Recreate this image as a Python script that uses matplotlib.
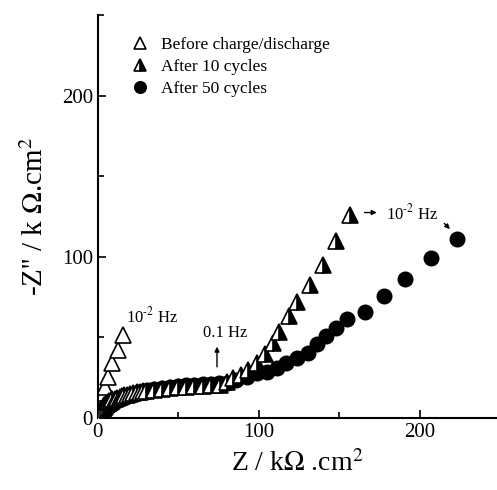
import matplotlib
matplotlib.use("Agg")
import matplotlib.pyplot as plt
from matplotlib.ticker import MultipleLocator

plt.rcParams['font.family'] = ['Liberation Serif', 'DejaVu Serif']
plt.rcParams['mathtext.fontset'] = 'stix'

# Before charge/discharge
before_x = [0.5, 1.0, 1.5, 1.8, 2.2, 2.5, 3.2, 4.0, 4.6, 6.2, 8.7, 12.4, 15.5]
before_y = [1.5, 3.0, 4.5, 6.0, 7.5, 9.0, 12.0, 15.5, 19.0, 25.5, 34.0, 42.0, 51.5]

# After 10 cycles
c10_x = [0.8, 1.5, 2.2, 3, 4, 5, 6, 7, 8, 9, 10.5, 12, 13.5, 15, 16.5, 18, 20, 22, 24, 26, 28,
         30, 35, 40, 45, 50, 55, 60, 65, 70, 76, 80, 84, 89,
         93, 98.6, 103.7, 109, 112.5, 119, 124, 131.7, 140, 148, 156.5]
c10_y = [2.5, 4, 5.5, 7, 8, 9, 9.8, 10.5, 11, 11.5, 12, 12.5, 13, 13.5, 14, 14.5, 15, 15.5,
         16, 16.3, 16.6, 17, 17.5, 18, 18.5, 19, 19.3, 19.6,
         20, 20.3, 20.5, 22.4, 25, 26.7, 30, 34, 40, 46.6, 53.5, 63, 72, 82.6, 95, 110, 126]

# After 50 cycles
c50_x = [0.8, 1.5, 2.2, 3, 4, 5, 6.5, 8, 10, 12, 14.5, 17, 19.5, 22, 25, 28, 31, 35, 40, 45,
         50, 55, 60, 65, 70, 75, 80, 86, 92.5, 98.6,
         105, 111, 117, 123.6, 130.3, 136, 142, 148, 155, 166, 178, 190.7, 207, 223]
c50_y = [0.8, 1.5, 2.2, 3, 4, 5, 6.5, 8, 9.5, 11, 12, 13, 14, 15, 16, 16.5, 17.2, 18, 18.8,
         19.5, 20, 20.3, 20.7, 21, 21.2, 21.5, 21.7,
         23.6, 25.5, 28, 28.6, 31, 34, 37, 40.5, 46, 51, 56, 61.5, 66, 76, 86, 99, 111]

fig = plt.figure(figsize=(4.97, 4.90), dpi=100)
ax = fig.add_axes([0.197, 0.147, 0.803, 0.822])

ax.plot(before_x, before_y, linestyle='none', marker='^', markersize=11,
        markerfacecolor='white', markeredgecolor='black', markeredgewidth=1.2,
        label='Before charge/discharge')
ax.plot(c50_x, c50_y, linestyle='none', marker='o', markersize=10.5,
        color='black', label='After 50 cycles', zorder=2)
ax.plot(c10_x, c10_y, linestyle='none', marker='^', markersize=11,
        fillstyle='right', markerfacecolor='black', markerfacecoloralt='white',
        markeredgecolor='black', markeredgewidth=1.2, label='After 10 cycles', zorder=3)

handles, labels = ax.get_legend_handles_labels()
order = [0, 2, 1]
leg = ax.legend([handles[i] for i in order], [labels[i] for i in order],
                loc='upper left', bbox_to_anchor=(0.04, 0.985), frameon=False,
                fontsize=12.5, handletextpad=0.6, labelspacing=0.35,
                handlelength=1.2, markerscale=0.8)

ax.set_xlim(0, 248)
ax.set_ylim(0, 250)
ax.xaxis.set_major_locator(MultipleLocator(100))
ax.xaxis.set_minor_locator(MultipleLocator(50))
ax.yaxis.set_major_locator(MultipleLocator(100))
ax.yaxis.set_minor_locator(MultipleLocator(50))
ax.tick_params(which='both', direction='in', labelsize=15, width=1.2)
ax.tick_params(which='major', length=6)
ax.tick_params(which='minor', length=4)
ax.spines['top'].set_visible(False)
ax.spines['right'].set_visible(False)
for s in ['left', 'bottom']:
    ax.spines[s].set_linewidth(1.5)

ax.set_xlabel('Z / k$\\Omega$ .cm$^2$', fontsize=20, labelpad=6)
ax.set_ylabel("-Z'' / k $\\Omega$.cm$^2$", fontsize=21, labelpad=9)

ax.text(17.5, 63, '10$^{\\text{-}2}$ Hz', fontsize=12, va='center', ha='left')
ax.text(65, 53, '0.1 Hz', fontsize=12, va='center', ha='left')
ax.annotate('', xy=(74, 46), xytext=(74, 30),
            arrowprops=dict(arrowstyle='-|>', color='black', lw=1, mutation_scale=7))
ax.annotate('', xy=(175, 127.5), xytext=(164, 127.5),
            arrowprops=dict(arrowstyle='-|>', color='black', lw=1, mutation_scale=7))
ax.text(179, 127, '10$^{\\text{-}2}$ Hz', fontsize=12, va='center', ha='left')
ax.annotate('', xy=(220, 116), xytext=(214, 122),
            arrowprops=dict(arrowstyle='-|>', color='black', lw=1, mutation_scale=7))

fig.savefig('out.png', dpi=100)
